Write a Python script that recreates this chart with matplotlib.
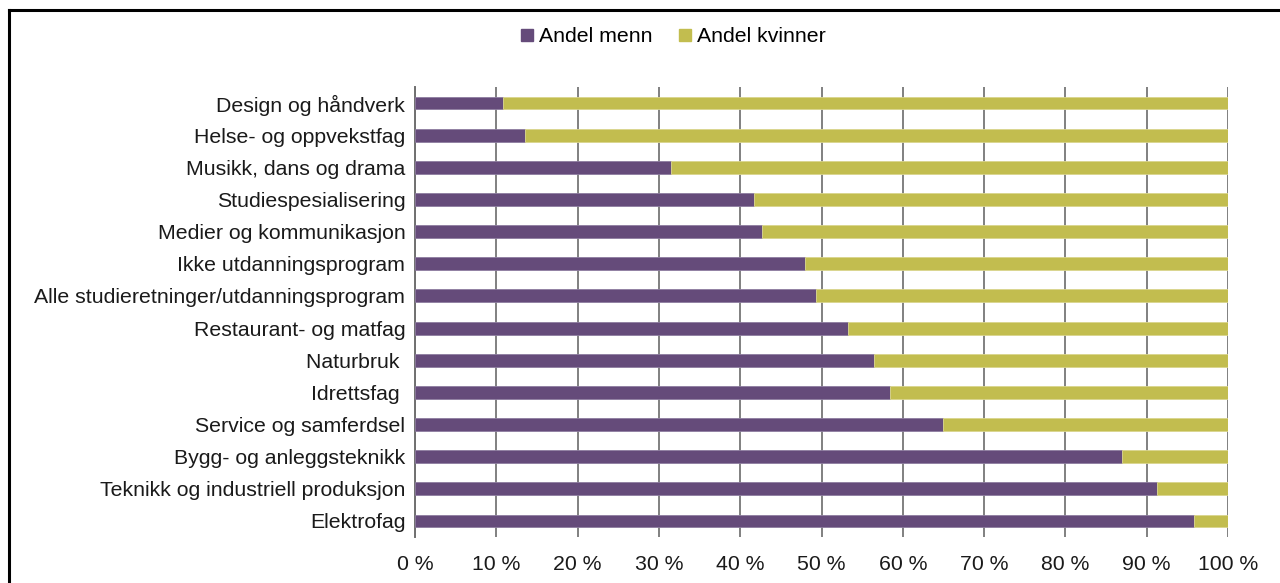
import matplotlib
matplotlib.use("Agg")
import matplotlib.pyplot as plt
from matplotlib.lines import Line2D
import numpy as np

categories = [
    "Design og håndverk",
    "Helse- og oppvekstfag",
    "Musikk, dans og drama",
    "Studiespesialisering",
    "Medier og kommunikasjon",
    "Ikke utdanningsprogram",
    "Alle studieretninger/utdanningsprogram",
    "Restaurant- og matfag",
    "Naturbruk ",
    "Idrettsfag ",
    "Service og samferdsel",
    "Bygg- og anleggsteknikk",
    "Teknikk og industriell produksjon",
    "Elektrofag",
]
andel_menn = [10.8, 13.5, 31.5, 41.7, 42.7, 48.0, 49.3, 53.3, 56.5, 58.4, 64.9, 87.0, 91.3, 95.8]
andel_kvinner = [100 - v for v in andel_menn]
xticks = [0, 10, 20, 30, 40, 50, 60, 70, 80, 90, 100]
xticklabels = [f"{t} %" for t in xticks]

plt.rcParams['font.family'] = ['Liberation Sans', 'DejaVu Sans']

purple = "#654B7A"
olive = "#C2BD4F"
fs = 15.3

fig = plt.figure(figsize=(12.8, 5.83), dpi=100)
ax = fig.add_axes([415/1280, 1 - 537/583, (1228-415)/1280, (537-87)/583])

y = np.arange(len(categories))
ax.barh(y, andel_menn, height=0.4, color=purple, edgecolor="#8E7DA0", linewidth=0.6, label="Andel menn", zorder=3)
ax.barh(y, andel_kvinner, left=andel_menn, height=0.4, color=olive, edgecolor="#D9D58E", linewidth=0.6, label="Andel kvinner", zorder=3)

ax.set_xlim(0, 100)
ax.set_ylim(len(categories) - 0.5, -0.5)
ax.set_yticks(y)
ax.set_yticklabels(categories, fontsize=fs, color="#1a1a1a")
ax.set_xticks(xticks)
ax.set_xticklabels(xticklabels, fontsize=fs, color="#1a1a1a")
ax.tick_params(axis='both', length=0)
ax.tick_params(axis='x', pad=13)
ax.tick_params(axis='y', pad=7)
ax.xaxis.grid(True, color="#808080", linewidth=1.4, zorder=0)
ax.set_axisbelow(True)
for s in ["top", "right", "bottom"]:
    ax.spines[s].set_visible(False)
ax.spines["left"].set_color("#707070")
ax.spines["left"].set_linewidth(1.4)

handles = [Line2D([], [], marker="s", linestyle="none", markersize=8, color=purple),
           Line2D([], [], marker="s", linestyle="none", markersize=8, color=olive)]
fig.legend(handles, ["Andel menn", "Andel kvinner"], loc="center", bbox_to_anchor=(671/1280, 1 - 37/583),
           ncol=2, frameon=False, fontsize=fs, handletextpad=0.1, columnspacing=1.0, handlelength=1.0)

# frame lines (top and left)
fig.add_artist(Line2D([8.5/1280, 1], [1 - 9.5/583, 1 - 9.5/583], transform=fig.transFigure, color="black", linewidth=2.2))
fig.add_artist(Line2D([8.5/1280, 8.5/1280], [0, 1 - 9.5/583], transform=fig.transFigure, color="black", linewidth=2.2))

fig.savefig("out.png", dpi=100)
